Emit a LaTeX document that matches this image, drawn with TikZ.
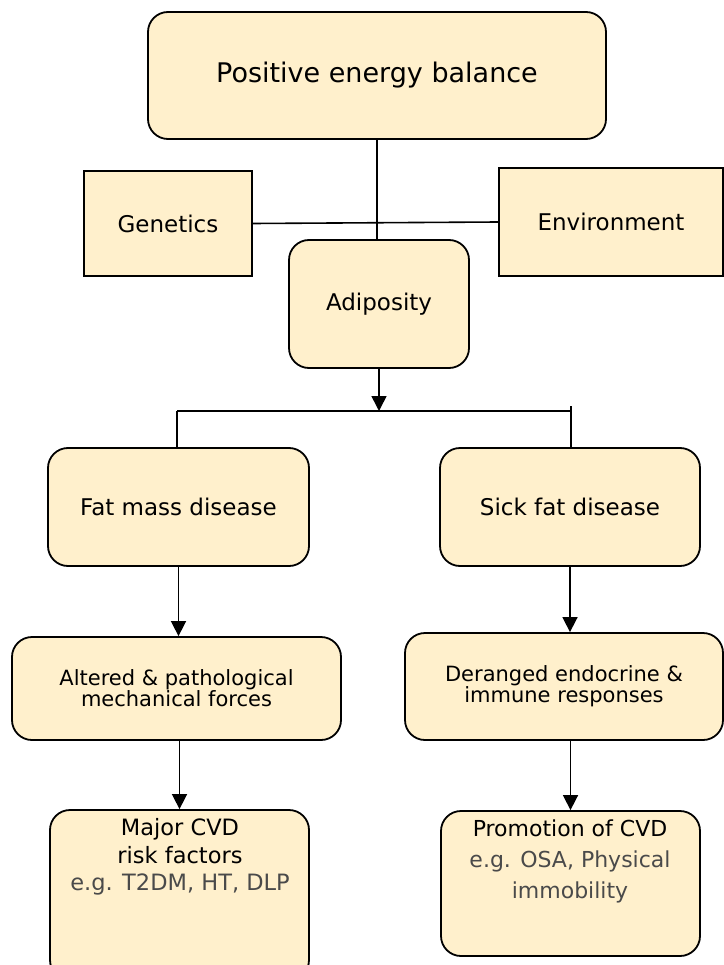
\documentclass[tikz,border=0pt]{standalone}
\usepackage{fontspec}
\setmainfont{DejaVu Sans}
\usetikzlibrary{arrows.meta}
\definecolor{boxfill}{HTML}{FFF0CC}
\definecolor{egtext}{HTML}{4A4A4A}
\begin{document}
\begin{tikzpicture}[x=1pt,y=-1pt,
  box/.style={draw=black,line width=1.8pt,fill=boxfill,rounded corners=20pt,inner sep=0pt,align=center},
  sqbox/.style={draw=black,line width=1.8pt,fill=boxfill,inner sep=0pt,align=center},
  conn/.style={line width=1.6pt},
  arr/.style={line width=1.6pt,-{Triangle[length=15pt,width=15pt]}},
  big/.style={font=\fontsize{27}{31}\selectfont},
  mid/.style={font=\fontsize{23}{27}\selectfont},
  small/.style={font=\fontsize{21}{20}\selectfont},
  txt/.style={align=center,inner sep=0pt}]
\useasboundingbox (0,0) rectangle (723,965);
\node[box,big,minimum width=458pt,minimum height=127pt] (top) at (377,75.5) {Positive energy balance};
\node[sqbox,mid,minimum width=168pt,minimum height=105pt] (gen) at (168,223.5) {Genetics};
\node[sqbox,mid,minimum width=224pt,minimum height=108pt] (env) at (611,222) {Environment};
\node[box,mid,minimum width=180pt,minimum height=128pt] (adi) at (379,304) {Adiposity};
\node[box,mid,minimum width=261pt,minimum height=118pt] (fat) at (178.5,507) {Fat mass disease};
\node[box,mid,minimum width=260pt,minimum height=118pt] (sick) at (570,507) {Sick fat disease};
\node[box,small,minimum width=329pt,minimum height=103pt] (alt) at (176.5,688.5) {Altered \& pathological\\mechanical forces};
\node[box,small,minimum width=318pt,minimum height=107pt] (der) at (564,686.5) {Deranged endocrine \&\\immune responses};
\node[box,minimum width=259pt,minimum height=170pt] (maj) at (179.5,895) {};
\node[box,minimum width=259pt,minimum height=145pt] (pro) at (570.5,883.5) {};
\node[txt,font=\fontsize{22.5}{27.5}\selectfont] (majt) at (180,857) {Major CVD\\risk factors\\{\color{egtext}e.g. T2DM, HT, DLP}};
\node[txt,font=\fontsize{22}{31}\selectfont] (prot) at (570,861) {Promotion of CVD\\{\color{egtext}e.g. OSA, Physical}\\{\color{egtext}immobility}};
\coordinate (bl) at (177,411);
\coordinate (br) at (571,411);
\coordinate (brt) at (571,406);
\draw[conn] (top.south) -- (top.south |- adi.north);
\draw[conn] (gen.east) -- (env.west);
\draw[arr] (adi.south) -- (adi.south |- bl);
\draw[conn] (bl) -- (br);
\draw[conn] (bl) -- (bl |- fat.north);
\draw[conn] (brt) -- (brt |- sick.north);
\draw[arr] (fat.south) -- (alt.north -| fat.south);
\draw[arr] (sick.south) -- (sick.south |- der.north);
\draw[arr] (maj.north |- alt.south) -- (maj.north);
\draw[arr] (pro.north |- der.south) -- (pro.north);
\end{tikzpicture}
\end{document}
